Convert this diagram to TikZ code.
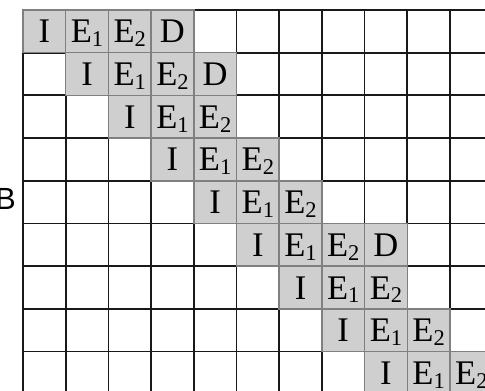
\documentclass[tikz,border=0pt]{standalone}
\usepackage{fontspec}
\setmainfont{Liberation Serif}
\newfontfamily\labelsans{Liberation Sans}
\usetikzlibrary{positioning}
\newcommand{\lowsub}[1]{\raisebox{-2.5pt}{\fontsize{15}{15}\selectfont #1}}
\tikzset{
  gridline/.style = {line width=1.2pt, black!90},
  band/.style     = {draw=black!50, fill=black!19, line width=1pt},
  entry/.style    = {font=\fontsize{23}{23}\selectfont, inner sep=0pt, anchor=base},
}
\begin{document}
\begin{tikzpicture}[x=1cm,y=-1cm]
  \useasboundingbox (-0.539,-0.234) rectangle (10.82,8.90);
  \clip (-0.539,-0.234) rectangle (10.82,8.90);
  % grid
  \foreach \c in {0,...,11}
    \draw[gridline] (\c,0) -- (\c,9.5);
  \foreach \r in {0,...,9}
    \draw[gridline] (0,\r) -- (11.5,\r);
  % shaded band, row r starts at column r; \d = 1 if a D follows
  \foreach \r/\d in {0/1,1/1,2/0,3/0,4/0,5/1,6/0,7/0,8/0} {
    \pgfmathtruncatemacro{\n}{2+\d}
    \foreach \k in {0,...,\n}
      \draw[band] (\r+\k,\r) rectangle ++(1,1);
    \node[entry] (i\r) at (\r+0.5,\r+0.77) {I};
    \node[entry] (e\r) at (\r+1.5,\r+0.77) {E\lowsub{1}};
    \node[entry] (f\r) at (\r+2.5,\r+0.77) {E\lowsub{2}};
    \ifnum\d=1
      \node[entry] (d\r) at (\r+3.5,\r+0.77) {D};
    \fi
  }
  \node[font=\labelsans\fontsize{20.4}{20.4}\selectfont, inner sep=0pt,
        anchor=east] (blab) at (-0.16,4.42) {B};
\end{tikzpicture}
\end{document}
